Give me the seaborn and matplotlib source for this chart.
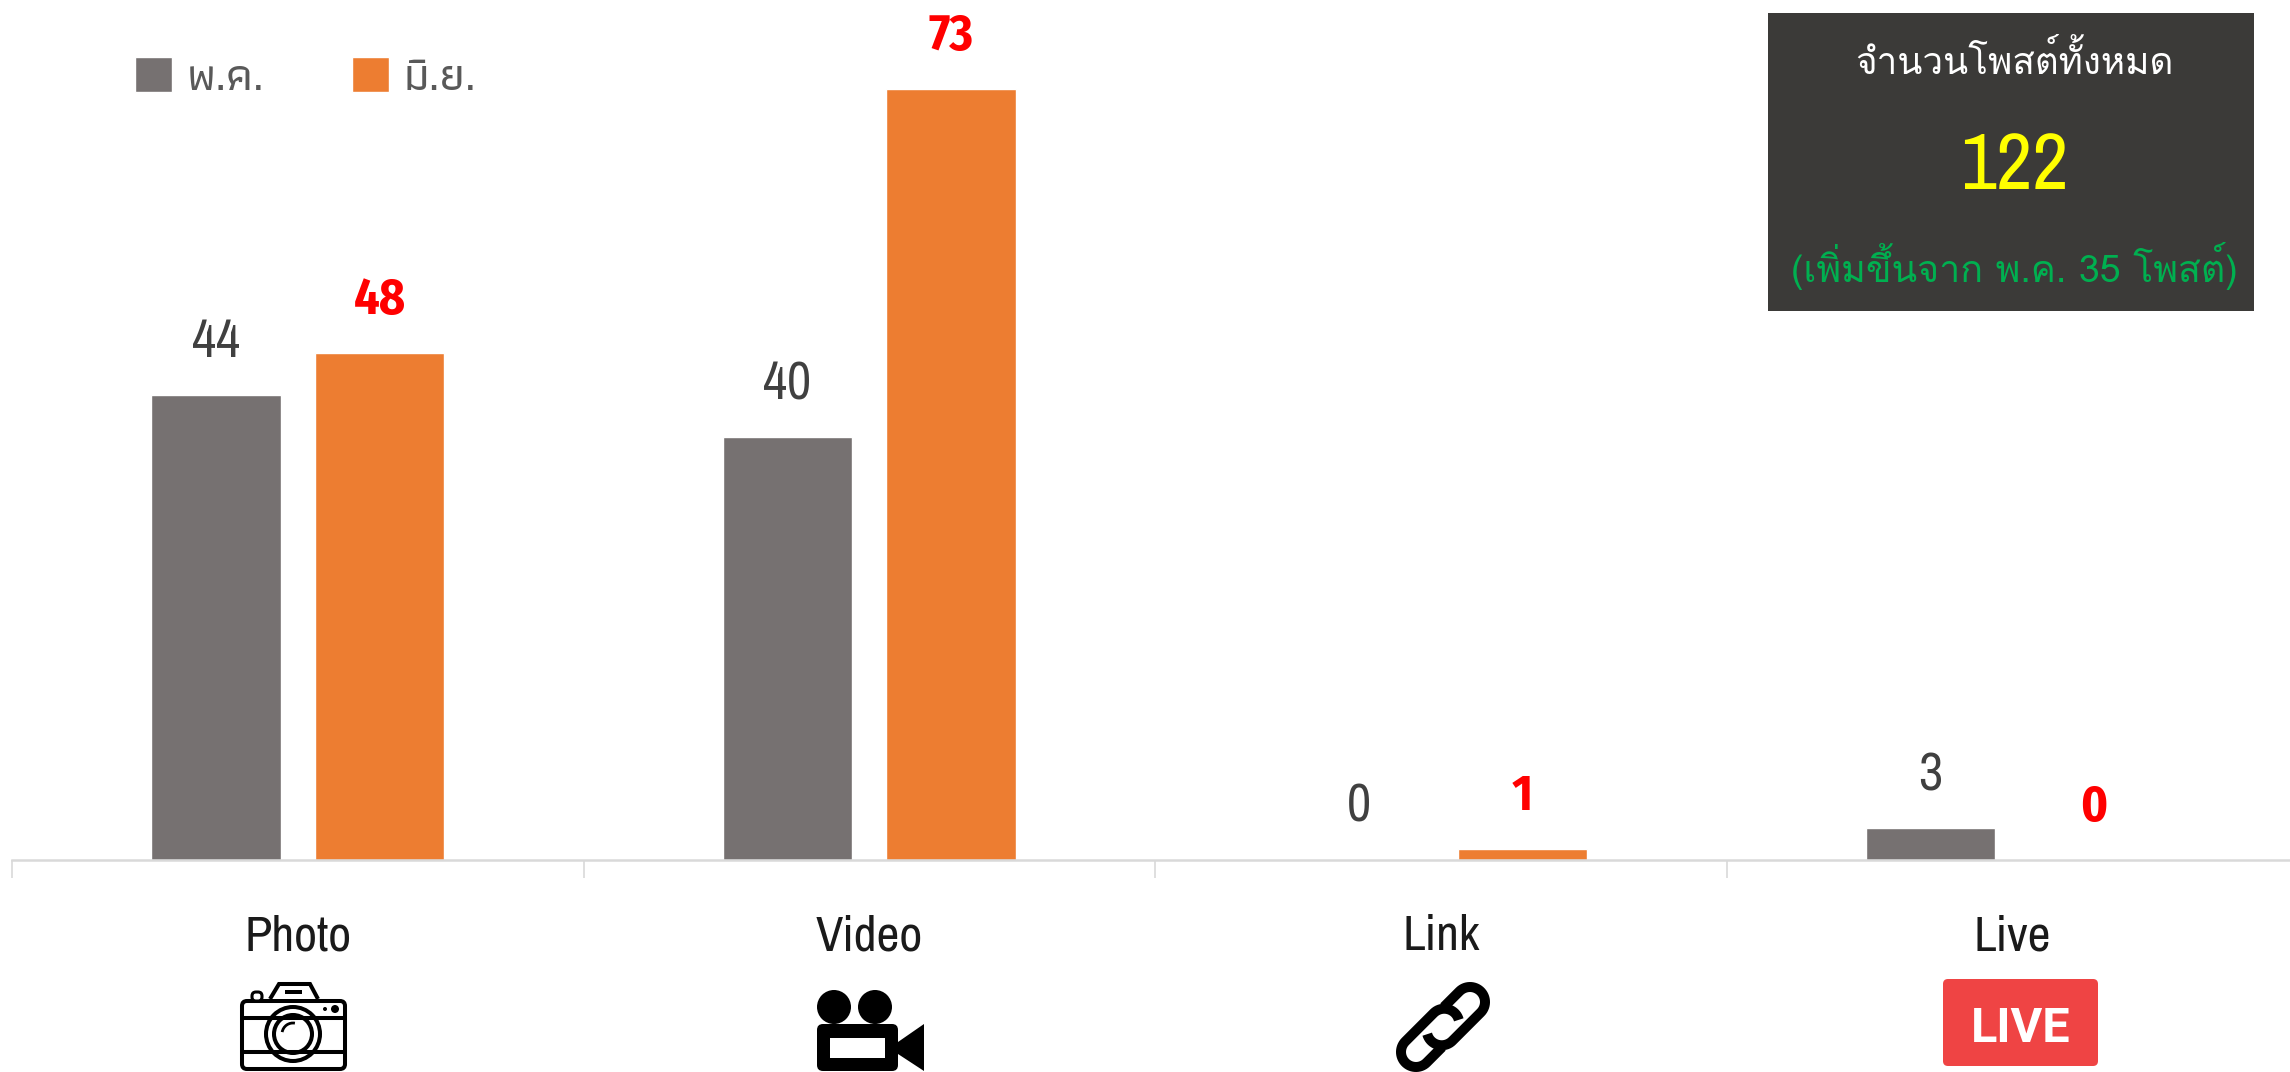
import numpy as np
import pandas as pd
import matplotlib
matplotlib.use("Agg")
import matplotlib.pyplot as plt
from matplotlib.patches import Rectangle, FancyBboxPatch, Polygon, Circle, Arc
import seaborn as sns

W, H = 2290, 1072

categories = ["Photo", "Video", "Link", "Live"]
months = ["พ.ค.", "มิ.ย."]
may_posts = [44, 40, 0, 3]
june_posts = [48, 73, 1, 0]

box_title = "จำนวนโพสต์ทั้งหมด"
box_total = "122"
box_change = "(เพิ่มขึ้นจาก พ.ค. 35 โพสต์)"

GREY = "#767171"
ORANGE = "#ED7D31"
THAI = ["Athiti", "Noto Sans Thai", "DejaVu Sans"]
THAI_STACKED = ["Loma", "Athiti", "DejaVu Sans"]  # Loma stacks the tone marks without shaping
NARROW = ["Archivo Narrow", "Liberation Sans Narrow", "DejaVu Sans"]
NARROW_BOLD = ["Fira Sans Condensed", "Liberation Sans Narrow", "DejaVu Sans"]

sns.set_theme(style="white")
plt.rcParams["font.family"] = NARROW

df = pd.DataFrame({
    "post_type": categories * 2,
    "posts": may_posts + june_posts,
    "month": [months[0]] * 4 + [months[1]] * 4,
})

fig = plt.figure(figsize=(W / 100, H / 100), dpi=100)
# axes runs slightly past the right edge, same as the original slide
ax = fig.add_axes([12 / W, (H - 860) / H, 2286 / W, 860 / H])
sns.barplot(data=df, x="post_type", y="posts", hue="month", order=categories,
            hue_order=months, palette=[GREY, ORANGE], saturation=1,
            width=0.573, gap=0.21, ax=ax)
ax.set_xlim(-0.5, 3.5)
ax.set_ylim(0, 81.4)
ax.set_xlabel("")
ax.set_ylabel("")
ax.set_yticks([])
for s in ["top", "left", "right"]:
    ax.spines[s].set_visible(False)
ax.spines["bottom"].set_color("#D9D9D9")
ax.spines["bottom"].set_linewidth(1.8)
ax.set_xticks([-0.5, 0.5, 1.5, 2.5, 3.5], minor=True)
ax.tick_params(axis="x", which="minor", bottom=True, length=13, width=1.2, color="#D9D9D9")
ax.tick_params(axis="x", which="major", bottom=False, length=0, pad=39, labelsize=36, labelcolor="#1A1A1A")

ax.bar_label(ax.containers[0], padding=21, fontsize=38, color="#404040")
ax.bar_label(ax.containers[1], padding=20, fontsize=36, color="#FF0000", fontweight="bold", family=NARROW_BOLD)

leg = ax.legend(loc="upper left", bbox_to_anchor=(135 / W, 1 - 57 / H), bbox_transform=fig.transFigure,
                ncol=2, frameon=False, borderpad=0, borderaxespad=0, handlelength=0.8, handleheight=0.8,
                handletextpad=0.33, columnspacing=1.9, labelcolor="#595959",
                prop={"family": THAI, "size": 33, "weight": 500})

# pixel overlay for the stats box and the icons
ov = fig.add_axes([0, 0, 1, 1], zorder=5)
ov.set_xlim(0, W)
ov.set_ylim(H, 0)
ov.axis("off")
ov.patch.set_alpha(0)

ov.add_patch(Rectangle((1768, 13), 486, 298, color="#3B3A38", lw=0))
ov.text(2014, 74, box_title, color="white", family=THAI_STACKED, fontsize=26.5, ha="center", va="baseline")
ov.text(2014, 189, box_total, color="#FFFF00", family=NARROW, fontsize=57, ha="center", va="baseline")
ov.text(2014, 282, box_change, color="#00B050", family=THAI_STACKED, fontsize=27, ha="center", va="baseline")

# camera icon
stroke = 2.9
ov.add_patch(FancyBboxPatch((242, 1001), 103, 68, boxstyle="round,pad=0,rounding_size=5", fc="white", ec="black", lw=stroke))
ov.add_patch(Polygon([(270, 999), (279, 984), (310, 984), (318, 999)], closed=False, fc="white", ec="black", lw=stroke))
ov.add_patch(Rectangle((285, 990), 17, 4, color="black", lw=0))
ov.add_patch(FancyBboxPatch((252, 992), 10, 9, boxstyle="round,pad=0,rounding_size=4", fc="white", ec="black", lw=2.2))
ov.plot([242, 345], [1018, 1018], color="black", lw=stroke, solid_capstyle="butt")
ov.plot([242, 345], [1052, 1052], color="black", lw=stroke, solid_capstyle="butt")
ov.add_patch(Circle((293, 1034), 27, fc="white", ec="black", lw=stroke))
ov.add_patch(Circle((293, 1034), 19, fc="white", ec="black", lw=stroke))
ov.add_patch(Arc((293, 1034), 22, 22, theta1=190, theta2=280, color="black", lw=2))
ov.add_patch(Circle((325, 1009), 2, color="black", lw=0))
ov.add_patch(Circle((335, 1009), 4, color="black", lw=0))

# video camera icon
ov.add_patch(Circle((834, 1007), 17, color="black", lw=0))
ov.add_patch(Circle((875, 1007), 17, color="black", lw=0))
ov.add_patch(FancyBboxPatch((817, 1024), 81, 47, boxstyle="round,pad=0,rounding_size=6", color="black", lw=0))
ov.add_patch(Rectangle((830, 1038), 55, 20, color="white", lw=0))
ov.add_patch(Polygon([(898, 1042), (924, 1024), (924, 1071), (898, 1054)], color="black", lw=0))

# link icon: two open chain links, second is the first turned 180 deg
a = np.array([-0.707, 0.707])
n = np.array([-0.707, -0.707])
c = np.array([1470.0, 1002.0])
R, Ld = 15, 40
phi = np.linspace(0, np.pi, 30)[:, None]
psi = np.linspace(0, np.radians(120), 20)[:, None]
link = np.vstack([
    c + R * n + 22 * a,
    c + R * np.cos(phi) * n - R * np.sin(phi) * a,
    c + Ld * a - R * np.cos(psi) * n + R * np.sin(psi) * a,
])
centre = np.array([1443.0, 1027.0])
for pts in [link, 2 * centre - link]:
    ov.plot(pts[:, 0], pts[:, 1], color="black", lw=7.2, solid_capstyle="butt", solid_joinstyle="round")

# live badge
ov.add_patch(FancyBboxPatch((1943, 979), 155, 87, boxstyle="round,pad=0,rounding_size=5", color="#EF4444", lw=0))
ov.text(2020.5, 1042, "LIVE", color="white", family=["Roboto", "DejaVu Sans"], fontweight="bold", fontsize=35, ha="center", va="baseline")

ov.set_xlim(0, W)
ov.set_ylim(H, 0)
fig.savefig("out.png", dpi=100)
